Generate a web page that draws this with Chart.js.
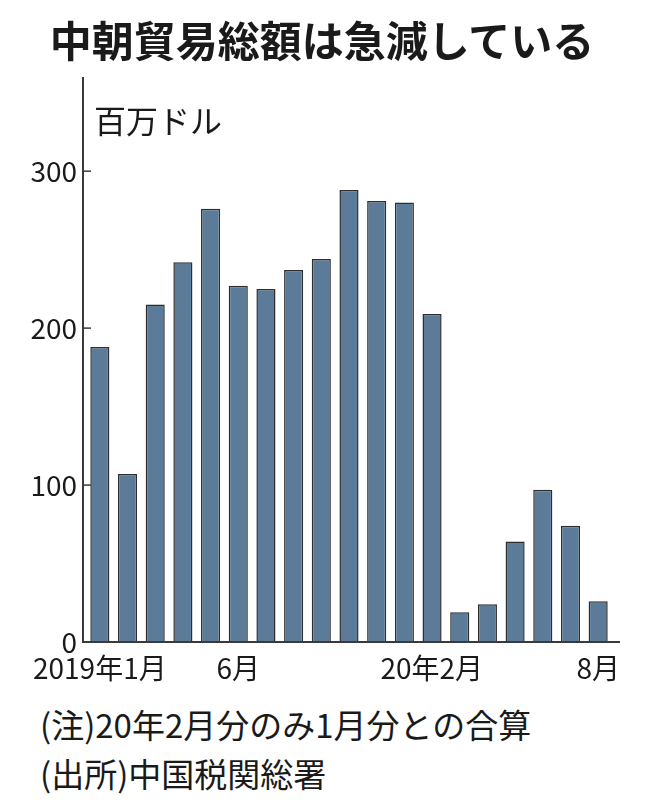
<!DOCTYPE html>
<html>
<head>
<meta charset="utf-8">
<script src="https://cdn.jsdelivr.net/npm/chart.js@4.4.1/dist/chart.umd.min.js"></script>
<style>
  html, body { margin: 0; padding: 0; background: #fff; }
  body { width: 657px; height: 803px; position: relative; overflow: hidden;
         font-family: 'Noto Sans CJK JP', sans-serif; color: #1a1a1a; }
  #title { position: absolute; left: 0; width: 644px; top: 12px; text-align: center;
           font-size: 42px; font-weight: 700; line-height: 54px; }
  #unit { position: absolute; left: 94px; top: 99px; font-size: 32px; line-height: 40px; }
  #wrap { position: absolute; left: 0; top: 0; width: 657px; height: 700px; }
  .note { position: absolute; left: 40px; font-size: 33px; line-height: 40px; white-space: nowrap; }
</style>
</head>
<body>
<div id="wrap"><canvas id="chart"></canvas></div>
<div id="title">中朝貿易総額は急減している</div>
<div id="unit">百万ドル</div>
<div class="note" style="top:704px">(注)20年2月分のみ1月分との合算</div>
<div class="note" style="top:753px">(出所)中国税関総署</div>
<script>
// months: 2019/1 .. 2019/12, then 2020/2 (Jan+Feb combined) .. 2020/8
const months = ['2019-01','2019-02','2019-03','2019-04','2019-05','2019-06','2019-07','2019-08',
                '2019-09','2019-10','2019-11','2019-12','2020-02','2020-03','2020-04','2020-05',
                '2020-06','2020-07','2020-08'];
const tradeTotal = [188, 107, 215, 242, 276, 227, 225, 237, 244, 288, 281, 280, 209, 19, 24, 64, 97, 74, 26];
const xTickLabels = ['2019年1月','','','','','6月','','','','','','','','20年2月\u3000\u3000','','','','','8月'];
const yTickValues = [0, 100, 200, 300];

const tickFont = { family: "'Noto Sans CJK JP', sans-serif", size: 28 };

// axis lines + inward tick marks, drawn like the newspaper graphic
const axisPlugin = {
    id: 'axisLines',
    afterDatasetsDraw(chart) {
        const { ctx, chartArea, scales } = chart;
        const y0 = scales.y.getPixelForValue(0);
        const x0 = chartArea.left - 3;
        ctx.save();
        ctx.strokeStyle = '#3a3a3a';
        ctx.lineWidth = 2;
        ctx.beginPath();
        ctx.moveTo(x0, chartArea.top);
        ctx.lineTo(x0, y0);
        ctx.lineTo(chartArea.right + 8, y0);
        ctx.stroke();
        ctx.lineWidth = 1.5;
        for (const v of yTickValues) {
            if (v === 0) continue;
            const py = scales.y.getPixelForValue(v);
            ctx.beginPath();
            ctx.moveTo(x0, py);
            ctx.lineTo(x0 + 8, py);
            ctx.stroke();
        }
        ctx.restore();
    }
};

new Chart(document.getElementById('chart'), {
    type: 'bar',
    data: {
        labels: months,
        datasets: [{
            data: tradeTotal,
            backgroundColor: '#5b7b99',
            borderColor: '#2e2e2e',
            borderWidth: 1.5,
            borderSkipped: 'bottom',
            barPercentage: 0.69,
            categoryPercentage: 1.0
        }]
    },
    options: {
        responsive: true,
        maintainAspectRatio: false,
        animation: false,
        layout: { padding: { left: 0, right: 45, top: 77, bottom: 0 } },
        plugins: {
            legend: { display: false },
            tooltip: { enabled: false },
            title: { display: false }
        },
        scales: {
            x: {
                grid: { display: false, drawTicks: false },
                border: { display: false },
                ticks: {
                    autoSkip: false,
                    maxRotation: 0,
                    color: '#1a1a1a',
                    font: tickFont,
                    padding: 10,
                    callback: (v, i) => xTickLabels[i]
                },
                afterFit: s => { s.height = 58; }
            },
            y: {
                min: 0,
                max: 360,
                grid: { display: false, drawTicks: false },
                border: { display: false },
                afterBuildTicks: s => { s.ticks = yTickValues.map(v => ({ value: v })); },
                ticks: { color: '#1a1a1a', font: tickFont, padding: 9 },
                afterFit: s => { s.width = 86; }
            }
        }
    },
    plugins: [axisPlugin]
});
</script>
</body>
</html>
